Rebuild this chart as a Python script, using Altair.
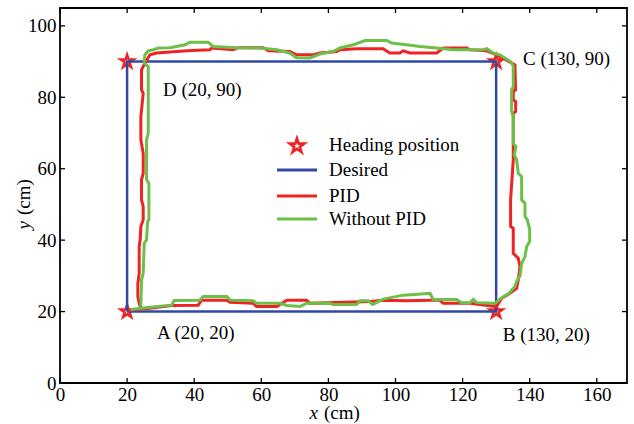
import altair as alt
import pandas as pd

# ---------------- data ----------------
corner_x = [20, 130, 130, 20]
corner_y = [20, 20, 90, 90]
corner_labels = ["A (20, 20)", "B (130, 20)", "C (130, 90)", "D (20, 90)"]
label_x = [28.9, 132.0, 138.0, 30.7]
label_y = [14.0, 13.4, 90.8, 82.1]

desired_x = [20, 130, 130, 20, 20]
desired_y = [20, 20, 90, 90, 20]

pid_x = [20.4, 26.8, 33.3, 41.2, 42.2, 49.7, 50.7, 57.6, 58.6, 64.6, 67.6, 73.5, 74.5, 92.4, 96.3,
         103.3, 110.3, 113.2, 114.2, 122.2, 130.1, 131.6, 134.1, 136.1, 136.6, 137.1, 136.6, 135.1,
         135.1, 134.3, 134.3, 134.9, 135.1, 135.1, 135.1, 135.8, 135.8, 135.1, 135.1, 135.8, 135.6,
         130.1, 127.2, 122.2, 121.2, 114.2, 112.3, 104.3, 102.3, 101.3, 98.3, 96.3, 88.4, 83.4, 82.5,
         77.5, 75.5, 70.5, 68.5, 62.1, 60.6, 53.1, 51.6, 45.2, 44.7, 37.8, 28.8, 26.8, 24.8, 24.3,
         24.3, 24.8, 24.1, 24.1, 24.8, 24.8, 24.3, 24.3, 24.8, 24.8, 24.1, 23.9, 23.6, 23.6, 23.2,
         23.2, 23.6, 24.1]
pid_y = [20.4, 20.9, 21.7, 21.8, 23.2, 23.2, 22.6, 22.3, 21.4, 21.4, 23.2, 23.2, 22.3, 22.8, 23.2,
         23.0, 23.2, 23.2, 22.3, 22.3, 21.4, 23.7, 25.1, 26.5, 28.9, 32.6, 34.9, 36.3,
         43.3, 43.8, 51.3, 59.7, 62.5, 66.2, 75.5, 76.0, 78.8, 79.3, 81.6, 82.1, 89.1,
         91.9, 93.0, 93.3, 93.8, 93.8, 92.4, 92.4, 93.0, 92.4, 92.4, 93.6, 93.6, 93.3, 92.8,
         92.4, 91.9, 91.9, 92.8, 93.0, 93.9, 93.9, 93.3, 93.8, 93.3, 93.0, 92.4, 91.9, 88.6, 87.7,
         82.1, 81.1, 74.6, 68.1, 64.3, 58.7, 56.9, 51.3, 49.4, 45.7, 43.8, 40.1, 38.2, 30.7, 27.9,
         24.2, 22.3, 21.0]

nopid_x = [21.0, 26.8, 33.3, 34.0, 41.7, 42.7, 49.7, 50.7, 57.6, 58.6, 65.6, 67.6, 71.5, 73.5, 80.5,
           81.4, 88.4, 89.4, 91.9, 93.2, 96.3, 102.3, 105.8, 110.3, 111.2, 118.2, 119.7, 122.2, 123.2,
           124.2, 129.6, 131.4, 133.8, 135.6, 136.3, 137.1, 137.6, 138.6, 139.1, 140.0, 140.0, 139.3,
           138.6, 138.6, 137.6, 137.6, 136.6, 136.1, 135.4, 135.9, 135.1, 135.1, 134.6, 134.6, 135.1,
           135.1, 134.3, 131.1, 129.1, 127.2, 126.1, 117.2, 112.3, 107.3, 103.3, 98.8, 97.4, 90.9,
           87.4, 83.4, 81.4, 77.5, 74.5, 70.5, 68.5, 64.6, 59.6, 52.7, 45.7, 44.2, 38.7, 37.3, 32.8,
           29.3, 27.8, 26.3, 25.3, 25.1, 26.3, 26.3, 25.8, 25.8, 26.5, 26.5, 26.1, 25.8, 25.1, 24.8,
           24.3, 24.1]
nopid_y = [20.6, 21.2, 21.8, 23.1, 23.2, 24.2, 24.2, 23.2, 23.0, 22.3, 22.3, 21.7, 21.4, 22.3, 22.3,
           22.0, 22.0, 23.0, 23.0, 22.0, 23.5, 24.6, 24.8, 25.1, 23.4, 23.4, 22.5, 22.5, 23.4,
           22.5, 22.3, 23.7, 25.1, 27.0, 28.9, 30.0, 33.5, 35.4, 38.2, 39.6, 42.9, 45.7,
           46.6, 50.3, 51.3, 57.8, 58.7, 62.5, 63.9, 66.2, 67.1, 74.6, 76.0, 82.1, 83.0,
           88.8, 90.0, 91.9, 92.4, 93.6, 93.3, 93.3, 93.8, 94.2, 94.7, 95.2, 95.9, 95.9,
           94.7, 93.8, 92.8, 92.1, 91.0, 91.1, 92.4, 93.3, 93.8, 93.9, 94.2, 95.4, 95.4, 94.7, 93.9,
           93.8, 93.3, 93.0, 91.9, 89.6, 88.6, 69.9, 68.1, 56.9, 55.9, 45.7, 45.2, 40.1, 39.1, 30.7,
           28.9, 21.4]

x_ticks = [0, 20, 40, 60, 80, 100, 120, 140, 160]
y_ticks = [0, 20, 40, 60, 80, 100]

legend_labels = ["Heading position", "Desired", "PID", "Without PID"]

# ---------------- styling ----------------
W, H = 567, 375
FONT = "Liberation Serif"
BLUE = "#3048a6"
RED = "#ee2424"
GREEN = "#6cbf47"
STAR = ("M0,-1L0.2245,-0.309L0.951,-0.309L0.363,0.118L0.588,0.809L0,0.382"
        "L-0.588,0.809L-0.363,0.118L-0.951,-0.309L-0.2245,-0.309Z")

xs = alt.Scale(domain=[0, 169], nice=False, zero=False)
ys = alt.Scale(domain=[0, 105], nice=False, zero=False)
X = alt.X("x:Q", scale=xs, title=None,
          axis=alt.Axis(values=x_ticks, labelFlush=False, labelPadding=2))
Y = alt.Y("y:Q", scale=ys, title=None,
          axis=alt.Axis(values=y_ticks, labelFlush=False, labelPadding=4))


def path_df(xv, yv):
    return pd.DataFrame({"x": xv, "y": yv, "i": list(range(len(xv)))})


corners = pd.DataFrame({"x": corner_x, "y": corner_y})
labels = pd.DataFrame({"x": label_x, "y": label_y, "t": corner_labels})

stars = alt.Chart(corners).mark_point(
    shape=STAR, filled=True, color=RED, size=470, opacity=1).encode(x=X, y=Y)
stars_in = alt.Chart(corners).mark_point(
    shape=STAR, filled=True, color="white", size=30, opacity=1).encode(x=X, y=Y)

desired = alt.Chart(path_df(desired_x, desired_y)).mark_line(
    color=BLUE, strokeWidth=2.5).encode(x=X, y=Y, order="i:Q")
pid = alt.Chart(path_df(pid_x, pid_y)).mark_line(
    color=RED, strokeWidth=3).encode(x=X, y=Y, order="i:Q")
nopid = alt.Chart(path_df(nopid_x, nopid_y)).mark_line(
    color=GREEN, strokeWidth=3).encode(x=X, y=Y, order="i:Q")

corner_text = alt.Chart(labels).mark_text(
    align="left", baseline="middle", font=FONT, fontSize=19, color="black"
).encode(x=X, y=Y, text="t:N")

# ticks pointing inward on all four sides
xt = pd.DataFrame({"x": x_ticks})
yt = pd.DataFrame({"y": y_ticks})
tick_b = alt.Chart(xt).mark_rule(color="black", strokeWidth=1.3).encode(
    x=X, y=alt.value(H), y2=alt.value(H - 5))
tick_t = alt.Chart(xt).mark_rule(color="black", strokeWidth=1.3).encode(
    x=X, y=alt.value(0), y2=alt.value(5))
tick_l = alt.Chart(yt).mark_rule(color="black", strokeWidth=1.3).encode(
    y=Y, x=alt.value(0), x2=alt.value(5))
tick_r = alt.Chart(yt).mark_rule(color="black", strokeWidth=1.3).encode(
    y=Y, x=alt.value(W), x2=alt.value(W - 5))

# manual legend
leg_star = alt.Chart(pd.DataFrame({"t": [legend_labels[0]]})).mark_point(
    shape=STAR, filled=True, color=RED, size=560, opacity=1
).encode(x=alt.value(237), y=alt.value(138))
leg_star_in = alt.Chart(pd.DataFrame({"t": [legend_labels[0]]})).mark_point(
    shape=STAR, filled=True, color="white", size=45, opacity=1
).encode(x=alt.value(237), y=alt.value(138))
leg_layers = [leg_star, leg_star_in]
for lab, col, yy in [(legend_labels[1], BLUE, 162), (legend_labels[2], RED, 188),
                     (legend_labels[3], GREEN, 211)]:
    leg_layers.append(
        alt.Chart(pd.DataFrame({"t": [lab]})).mark_rule(color=col, strokeWidth=3.2).encode(
            x=alt.value(217), x2=alt.value(257), y=alt.value(yy)))
for lab, yy in zip(legend_labels, [137, 162, 188, 211]):
    leg_layers.append(
        alt.Chart(pd.DataFrame({"t": [lab]})).mark_text(
            align="left", baseline="middle", font=FONT, fontSize=19, color="black"
        ).encode(x=alt.value(269), y=alt.value(yy), text="t:N"))

# axis titles with italic variable names
def txt(s, x, y, style="normal", align="left", angle=0):
    return alt.Chart(pd.DataFrame({"t": [s]})).mark_text(
        align=align, baseline="middle", font=FONT, fontSize=19, color="black",
        fontStyle=style, angle=angle
    ).encode(x=alt.value(x), y=alt.value(y), text="t:N")

titles = [
    txt("x", 258, 405, style="italic", align="right"),
    txt("(cm)", 264, 405),
    txt("y", -36, 213, style="italic", align="right", angle=270),
    txt("(cm)", -36, 207, align="left", angle=270),
]

chart = alt.layer(
    stars, stars_in, desired, pid, nopid, corner_text,
    tick_b, tick_t, tick_l, tick_r,
    *leg_layers, *titles
).properties(
    width=W, height=H,
    autosize=alt.AutoSizeParams(type="none"),
    padding={"left": 60, "top": 8, "right": 7, "bottom": 41},
).configure_axis(
    labelFont=FONT, labelFontSize=19, labelColor="black",
    ticks=False, domain=False, grid=False,
).configure_view(stroke="black", strokeWidth=1.8)

chart.save("out.html", embed_options={"renderer": "svg", "actions": False})
